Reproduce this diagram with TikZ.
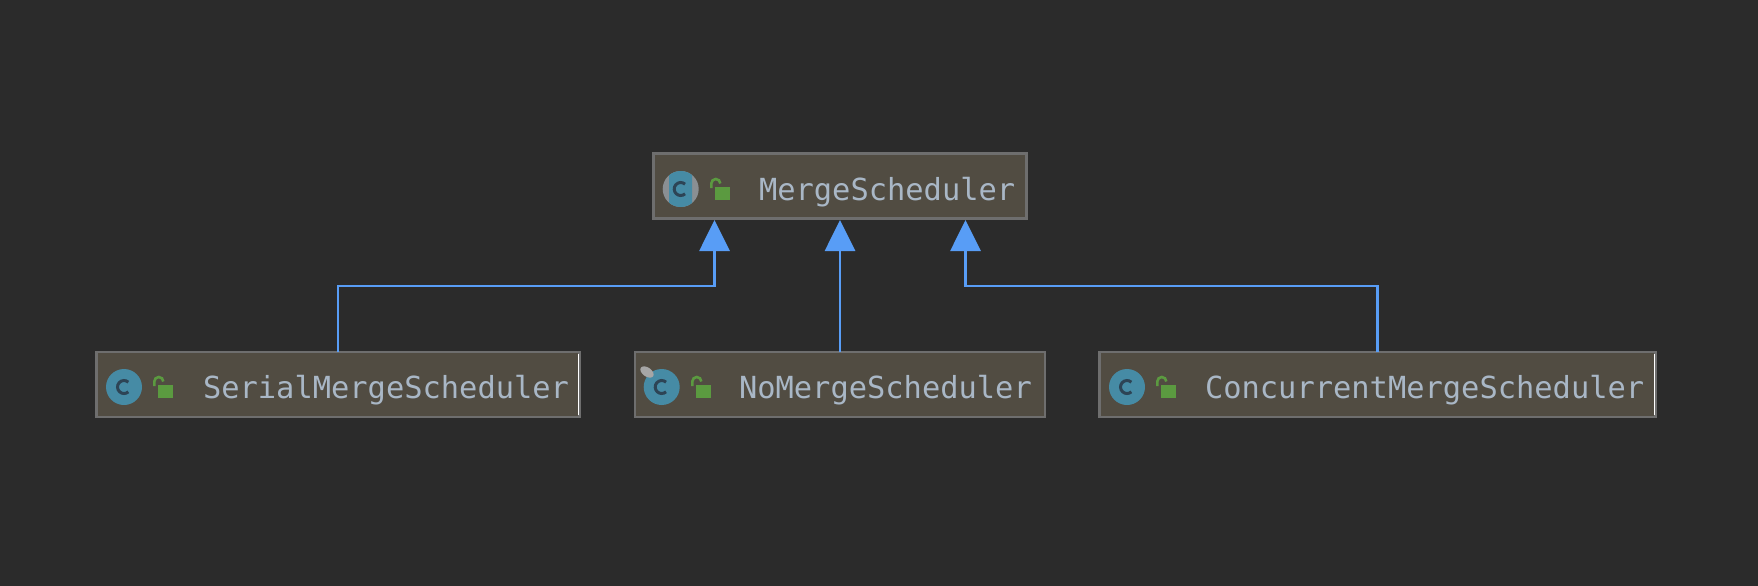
\documentclass[tikz,border=0pt]{standalone}
\usepackage{fontspec}
\setmainfont{DejaVu Sans Mono}
\usetikzlibrary{arrows.meta,calc}
\definecolor{bg}{HTML}{2B2B2B}
\definecolor{boxfill}{HTML}{514C42}
\definecolor{boxline}{HTML}{6E6E6E}
\definecolor{txt}{HTML}{A9B7C6}
\definecolor{inh}{HTML}{589DF6}
\definecolor{teal}{HTML}{468BA5}
\definecolor{cdark}{HTML}{2D4455}
\definecolor{lockg}{HTML}{5B9A40}
\definecolor{greyi}{HTML}{8A8F93}
\tikzset{
  classbox/.style={draw=boxline,fill=boxfill,line width=2.5pt,minimum height=65pt,inner sep=0pt,outer sep=0pt},
  lbl/.style={anchor=base west,inner sep=0pt,outer sep=0pt,text=txt,font=\fontsize{30.4pt}{32pt}\selectfont},
  inherit/.style={draw=inh,line width=2.8pt,-{Triangle[length=31pt,width=30pt,fill=inh]}},
  iconc/.style={line width=3pt,draw=cdark,line cap=butt},
  shackle/.style={draw=lockg,line width=2.6pt},
  lockbody/.style={fill=lockg},
  edgehi/.style={draw=white,line width=1pt}
}
\newcommand{\letterC}[1]{\draw[iconc] ([shift={(48:6.5pt)}]#1) arc[start angle=48,end angle=312,radius=6.5pt];}
\newcommand{\lockat}[2]{%
  \fill[lockbody] (#1,#2) rectangle ++(15,13);
  \draw[shackle] (#1-3.7,#2+1) -- (#1-3.7,#2-3.5) arc[start angle=180,end angle=0,radius=4.5pt];}
\begin{document}
\begin{tikzpicture}[x=1pt,y=-1pt]
\path[use as bounding box,fill=bg] (0,0) rectangle (1758,586);

\node[classbox,minimum width=373pt] (ms) at (840,186) {};
\node[classbox,minimum width=483pt] (serial) at (338,384.5) {};
\node[classbox,minimum width=410pt] (nomerge) at (840,384.5) {};
\node[classbox,minimum width=556pt] (conc) at (1377.5,384.5) {};

\draw[edgehi] ($(serial.north east)+(-0.9,2)$) -- ($(serial.south east)+(-0.9,-2)$);
\draw[edgehi] ($(conc.north east)+(-0.9,2)$) -- ($(conc.south east)+(-0.9,-2)$);

% abstract class icon
\coordinate (cm) at (680.7,189);
\fill[greyi] (cm) circle[radius=18pt];
\begin{scope}
\clip ($(cm)+(-11.5,-18)$) rectangle ($(cm)+(11.5,18)$);
\fill[teal] (cm) circle[radius=18pt];
\end{scope}
\letterC{cm}
\lockat{715}{187}

% serial icon
\coordinate (cs) at (124,387);
\fill[teal] (cs) circle[radius=18pt];
\letterC{cs}
\lockat{158}{385}

% no-merge icon
\coordinate (cn) at (661.7,387);
\fill[teal] (cn) circle[radius=18pt];
\fill[gray!70!white,rotate around={-35:(647,372)}] (647,372) ellipse[x radius=7.5pt,y radius=4.5pt];
\letterC{cn}
\lockat{696}{385}

% concurrent icon
\coordinate (cc) at (1127,387);
\fill[teal] (cc) circle[radius=18pt];
\letterC{cc}
\lockat{1161}{385}

\node[lbl] (t0) at (759,200.5) {MergeScheduler};
\node[lbl] (t1) at (203,398.5) {SerialMergeScheduler};
\node[lbl] (t2) at (739,398.5) {NoMergeScheduler};
\node[lbl] (t3) at (1205,398.5) {ConcurrentMergeScheduler};

\coordinate (in0) at (840,220);
\coordinate (in1) at (714.5,220);
\coordinate (in2) at (965.5,220);
\coordinate (bendl) at (500,286);
\coordinate (bendr) at (1200,286);
\draw[inherit] (serial.north) |- (bendl) -| (in1);
\draw[inherit] (nomerge.north) -- (in0);
\draw[inherit] (conc.north) |- (bendr) -| (in2);
\end{tikzpicture}
\end{document}
